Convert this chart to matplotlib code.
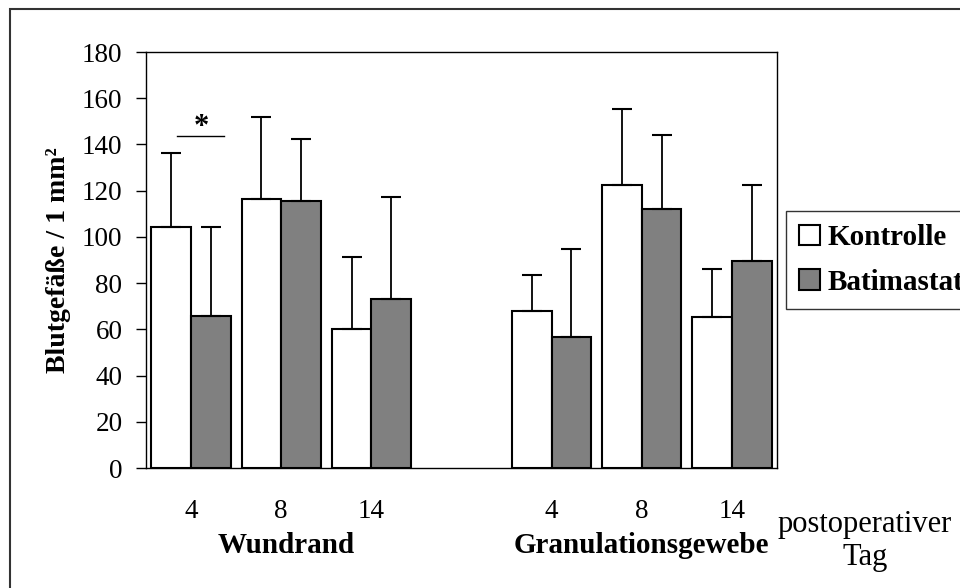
import matplotlib
matplotlib.use('Agg')
import matplotlib.pyplot as plt
from matplotlib.patches import Rectangle
import numpy as np

plt.rcParams['font.family'] = ['Liberation Serif', 'DejaVu Serif']

groups = ['Wundrand', 'Granulationsgewebe']
days = ['4', '8', '14', '4', '8', '14']
series = ['Kontrolle', 'Batimastat']
kontrolle = [104.2, 116.2, 60.0, 67.8, 122.3, 65.2]
kontrolle_sd = [32.2, 35.8, 31.3, 15.8, 33.0, 20.8]
batimastat = [65.9, 115.4, 73.2, 56.5, 112.1, 89.5]
batimastat_sd = [38.4, 27.0, 44.0, 38.1, 32.0, 33.0]
colors = ['white', '#808080']

fig = plt.figure(figsize=(9.6, 5.88), dpi=100)
ax = fig.add_axes([146/960, 1-468/588, (777-146)/960, (468-52)/588])

pos = np.array([0, 1, 2, 4, 5, 6])
w = 0.44
err_kw = dict(ecolor='black', elinewidth=1.3, capsize=7, capthick=1.5)
ax.bar(pos - w/2, kontrolle, w, color=colors[0], edgecolor='black', linewidth=1.5,
       yerr=[np.zeros(6), kontrolle_sd], error_kw=err_kw, label=series[0], zorder=2)
ax.bar(pos + w/2, batimastat, w, color=colors[1], edgecolor='black', linewidth=1.5,
       yerr=[np.zeros(6), batimastat_sd], error_kw=err_kw, label=series[1], zorder=2)

ax.set_xlim(-0.5, 6.5)
ax.set_ylim(0, 180)
ax.set_yticks(np.arange(0, 181, 20))
ax.set_xticks(pos)
ax.set_xticklabels(days)
ax.tick_params(axis='y', direction='out', length=7, width=1, pad=10, labelsize=19.5)
ax.tick_params(axis='x', length=0, pad=22, labelsize=19.5)
for s in ax.spines.values():
    s.set_linewidth(1)
ax.set_ylabel('Blutgefäße / 1 mm²', fontsize=20, fontweight='bold', labelpad=8)

# significance marker
ax.plot([-0.156, 0.366], [143.7, 143.7], color='black', lw=1)
ax.text(0.11, 147.5, '*', ha='center', va='center', fontsize=22, fontweight='bold')

# group labels
ax.text(1.06, -33.5, groups[0], ha='center', va='center', fontsize=21, fontweight='bold')
ax.text(5.0, -33.5, groups[1], ha='center', va='center', fontsize=21, fontweight='bold')
fig.text(865/960, 1-541/588, 'postoperativer\nTag', ha='center', va='center',
         fontsize=22, linespacing=1.2)

leg = fig.legend(loc='upper left', bbox_to_anchor=(786/960, 1-211/588),
                 bbox_transform=fig.transFigure, borderaxespad=0,
                 prop={'size': 21, 'weight': 'bold'}, frameon=True, fancybox=False,
                 edgecolor='black', handlelength=0.72, handleheight=0.72,
                 handletextpad=0.25, borderpad=0.45, labelspacing=0.6)
leg.get_frame().set_linewidth(1)

fig.add_artist(Rectangle((10/960, -0.05), 1.0, 1 - 9/588 + 0.05, transform=fig.transFigure,
                         fill=False, edgecolor='#333333', linewidth=1.5))

fig.savefig('out.png', dpi=100)
